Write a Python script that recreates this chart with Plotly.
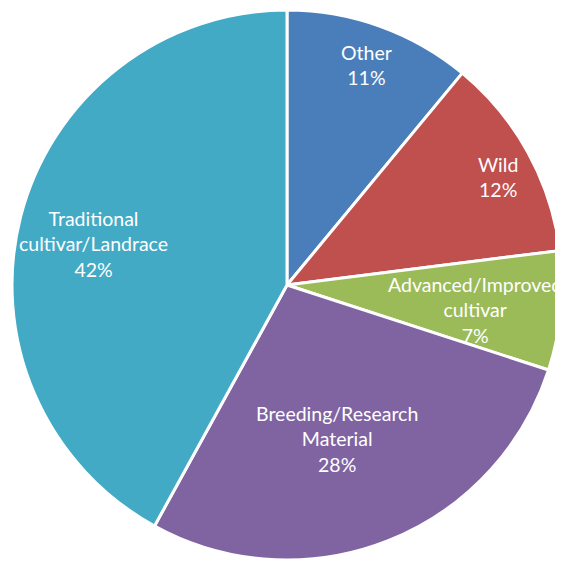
import math

import plotly.graph_objects as go

categories = ["Other", "Wild", "Advanced/Improved<br>cultivar", "Breeding/Research<br>Material",
              "Traditional<br>cultivar/Landrace"]
shares = [11, 12, 7, 28, 42]
colors = ["#4A7EBB", "#C0504D", "#9BBB59", "#8064A2", "#43AAC6"]

# the page body adds an 8px margin, so the figure is a bit smaller than the window
W, H = 555, 554
dom_x = [0.0072, 0.9982]
dom_y = [0.0036, 0.9964]

fig = go.Figure(
    go.Pie(
        labels=categories,
        values=shares,
        sort=False,
        direction="clockwise",
        rotation=0,
        marker=dict(colors=colors, line=dict(color="white", width=3)),
        textinfo="none",
        domain=dict(x=dom_x, y=dom_y),
        hovertemplate="%{label}<br>%{value}%<extra></extra>",
        showlegend=False,
    )
)

# labels sit near each slice's mid-angle (Excel "best fit"): radius fraction + small angle nudge
label_radius = [0.85, 0.86, 0.69, 0.59, 0.72]
label_nudge = [0, 1.7, 2.3, 3.7, -2.4]
cx = (dom_x[0] + dom_x[1]) / 2
cy = (dom_y[0] + dom_y[1]) / 2
r_px = min((dom_x[1] - dom_x[0]) * W, (dom_y[1] - dom_y[0]) * H) / 2
total = sum(shares)
cum = 0
for name, v, f, nd in zip(categories, shares, label_radius, label_nudge):
    mid = (cum + v / 2) / total * 2 * math.pi + math.radians(nd)
    cum += v
    fig.add_annotation(
        x=cx + r_px * f * math.sin(mid) / W,
        y=cy + r_px * f * math.cos(mid) / H,
        xref="paper",
        yref="paper",
        xanchor="center",
        yanchor="middle",
        text=f"{name}<br>{v}%",
        showarrow=False,
        font=dict(family="Lato", size=19.5, color="white"),
        align="center",
    )

fig.update_layout(
    width=W,
    height=H,
    margin=dict(l=0, r=0, t=0, b=0),
    paper_bgcolor="white",
    plot_bgcolor="white",
)

fig.write_html("out.html")
